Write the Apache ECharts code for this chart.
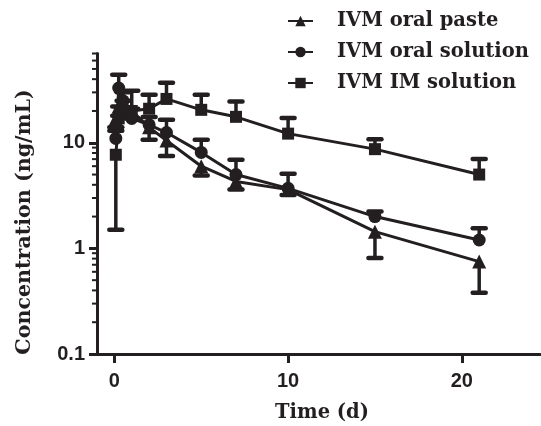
<!DOCTYPE html>
<html>
<head>
<meta charset="utf-8">
<script src="https://cdn.jsdelivr.net/npm/echarts@6/dist/echarts.min.js"></script>
<style>
  html, body { margin: 0; padding: 0; background: #fff; }
  #main { width: 541px; height: 426px; }
</style>
</head>
<body>
<div id="main"></div>
<script>
var ink = "#231f20"
var serif = "DejaVu Serif"

// sampling times (d)
var times = [0.083, 0.25, 0.5, 1, 2, 3, 5, 7, 10, 15, 21]

// mean concentrations (ng/mL)
var pasteMean = [17, 22, 25, 20, 14, 10.5, 6.0, 4.3, 3.6, 1.44, 0.75]
var solutionMean = [11, 33, 25, 17, 14.8, 12.5, 8.1, 5.0, 3.7, 2.0, 1.2]
var imMean = [7.7, 17, 19, 20, 21, 26, 20.5, 17.6, 12.2, 8.7, 5.0]

// error bar ends (one-sided, as drawn)
var pasteErr = [14, 18, 21, 17, 10.7, 7.5, 4.9, 3.6, 3.2, 0.81, 0.38]
var solutionErr = [13, 44, 30, 21, 17.5, 16.5, 10.7, 6.9, 5.1, 2.23, 1.55]
var imErr = [1.5, 22, 25, 31, 28.5, 37, 28.5, 24.6, 17.2, 10.8, 7.0]

var yMajor = [0.1, 1, 10]
var yMinor = [0.2, 0.3, 0.4, 0.5, 0.6, 0.7, 0.8, 0.9, 2, 3, 4, 5, 6, 7, 8, 9, 20, 30, 40, 50, 60, 70]
var xTicks = [0, 10, 20]

function pairs(mean) {
  return times.map(function (t, i) { return [t, mean[i]] })
}
function errData(mean, err) {
  return times.map(function (t, i) { return [t, mean[i], err[i]] })
}

function renderErr(params, api) {
  var p0 = api.coord([api.value(0), api.value(1)])
  var p1 = api.coord([api.value(0), api.value(2)])
  var half = 6.5
  return {
    type: "group",
    children: [
      {
        type: "line",
        shape: { x1: p0[0], y1: p0[1], x2: p1[0], y2: p1[1] },
        style: { stroke: ink, lineWidth: 3.5 }
      },
      {
        type: "line",
        shape: { x1: p1[0] - half, y1: p1[1], x2: p1[0] + half, y2: p1[1] },
        style: { stroke: ink, lineWidth: 4.5, lineCap: "round" }
      }
    ]
  }
}

function renderMinor(params, api) {
  var p = api.coord([-1, api.value(0)])
  return {
    type: "line",
    shape: { x1: p[0] - 5, y1: p[1], x2: p[0], y2: p[1] },
    style: { stroke: ink, lineWidth: 2 }
  }
}

function lineSeries(name, symbol, size, mean) {
  return {
    name: name,
    type: "line",
    data: pairs(mean),
    symbol: symbol,
    symbolSize: size,
    showAllSymbol: true,
    lineStyle: { color: ink, width: 3 },
    itemStyle: { color: ink },
    z: 3
  }
}

function errSeries(mean, err) {
  return {
    type: "custom",
    data: errData(mean, err),
    renderItem: renderErr,
    clip: false,
    silent: true,
    encode: { x: 0, y: [1, 2] },
    z: 2
  }
}

var chart = echarts.init(document.getElementById("main"), null, { renderer: "canvas" })

var option = {
  animation: false,
  backgroundColor: "#fff",
  grid: { left: 97, top: 53.5, right: 1, bottom: 72, containLabel: false },
  legend: {
    orient: "vertical",
    left: 287,
    top: 11,
    padding: 0,
    itemWidth: 25,
    itemHeight: 13,
    itemGap: 11,
    data: ["IVM oral paste", "IVM oral solution", "IVM IM solution"],
    textStyle: {
      fontFamily: serif,
      fontWeight: "bold",
      fontSize: 19.5,
      color: ink,
      padding: [0, 0, 0, 19]
    }
  },
  xAxis: {
    type: "value",
    min: -1,
    max: 24.5,
    axisLine: { onZero: false, lineStyle: { color: ink, width: 3 } },
    axisTick: { show: true, length: 9, lineStyle: { color: ink, width: 3 }, customValues: xTicks },
    axisLabel: {
      customValues: xTicks,
      margin: 17,
      fontFamily: "Liberation Sans",
      fontWeight: "bold",
      fontSize: 20,
      color: ink
    },
    splitLine: { show: false }
  },
  yAxis: {
    type: "log",
    logBase: 10,
    min: 0.1,
    max: 70,
    axisLine: { show: true, onZero: false, lineStyle: { color: ink, width: 3 } },
    axisTick: { show: true, length: 8, lineStyle: { color: ink, width: 3 }, customValues: yMajor },
    axisLabel: {
      customValues: yMajor,
      margin: 12,
      fontFamily: "Liberation Sans",
      fontWeight: "bold",
      fontSize: 20,
      color: ink,
      formatter: function (v) { return String(v) }
    },
    splitLine: { show: false }
  },
  graphic: [
    {
      type: "text",
      x: 25,
      y: 222,
      rotation: Math.PI / 2,
      style: {
        text: "Concentration (ng/mL)",
        fontFamily: serif,
        fontWeight: "bold",
        fontSize: 20.6,
        fill: ink,
        align: "center",
        verticalAlign: "middle"
      }
    },
    {
      type: "text",
      x: 322,
      y: 413,
      style: {
        text: "Time (d)",
        fontFamily: serif,
        fontWeight: "bold",
        fontSize: 19.5,
        fill: ink,
        align: "center",
        verticalAlign: "middle"
      }
    }
  ],
  series: [
    errSeries(imMean, imErr),
    errSeries(solutionMean, solutionErr),
    errSeries(pasteMean, pasteErr),
    lineSeries("IVM IM solution", "rect", 12, imMean),
    lineSeries("IVM oral solution", "circle", 13, solutionMean),
    lineSeries("IVM oral paste", "triangle", 14, pasteMean),
    {
      type: "custom",
      data: yMinor.map(function (v) { return [v] }),
      renderItem: renderMinor,
      clip: false,
      silent: true,
      encode: { y: 0 },
      z: 1
    }
  ]
}

chart.setOption(option)
</script>
</body>
</html>
